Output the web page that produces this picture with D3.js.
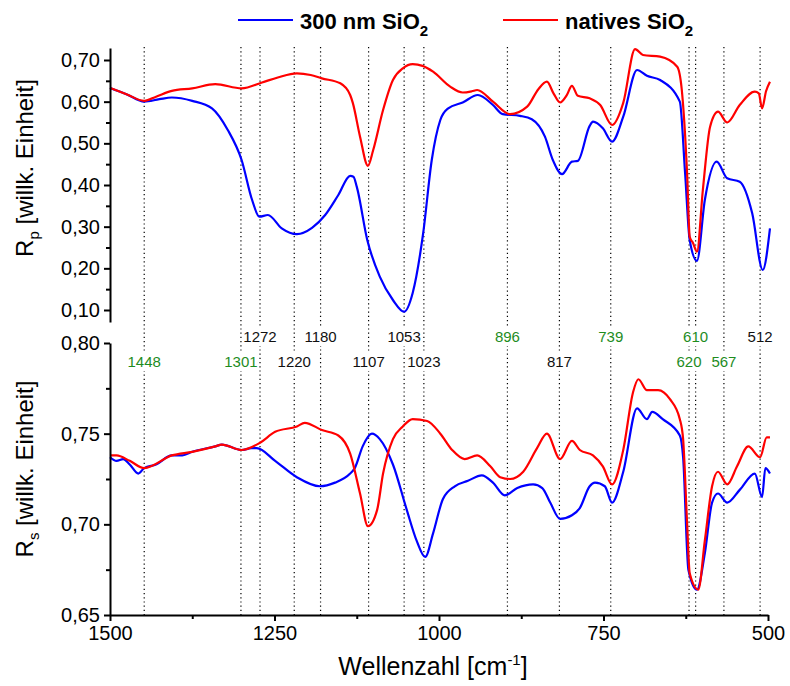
<!DOCTYPE html>
<html>
<head>
<meta charset="utf-8">
<script src="https://cdn.jsdelivr.net/npm/d3@7"></script>
<style>
  body { margin: 0; background: #fff; }
  svg { font-family: "Liberation Sans", Arial, sans-serif; }
</style>
</head>
<body>
<div id="chart"></div>
<script>
// Rp spectra (top panel), [wavenumber, value]
var rpBlue = [
  [1500,0.633],[1475,0.618],[1448,0.600],[1425,0.606],[1406,0.610],[1375,0.602],
  [1345,0.584],[1321,0.532],[1300,0.460],[1284,0.364],[1273,0.324],[1260,0.328],
  [1239,0.296],[1216,0.282],[1193,0.297],[1173,0.328],[1153,0.376],[1135,0.422],
  [1130,0.420],[1125,0.396],[1109,0.268],[1090,0.180],[1070,0.124],[1053,0.096],
  [1040,0.141],[1024,0.285],[1011,0.460],[998,0.556],[986,0.584],[964,0.598],
  [941,0.616],[918,0.592],[903,0.570],[877,0.566],[859,0.558],[839,0.516],
  [827,0.460],[813,0.426],[798,0.456],[789,0.458],[771,0.542],[766,0.552],
  [751,0.536],[737,0.504],[720,0.564],[699,0.676],[684,0.662],[664,0.652],
  [634,0.600],[626,0.429],[619,0.268],[608,0.218],[596,0.364],[578,0.456],
  [562,0.416],[543,0.408],[524,0.332],[508,0.196],[497,0.296]
];
var rpRed = [
  [1500,0.633],[1475,0.618],[1448,0.602],[1430,0.612],[1406,0.626],[1375,0.632],
  [1340,0.642],[1300,0.632],[1269,0.646],[1245,0.658],[1216,0.668],[1195,0.664],
  [1178,0.656],[1150,0.644],[1135,0.616],[1131,0.597],[1120,0.516],[1108,0.446],
  [1100,0.484],[1085,0.580],[1070,0.652],[1055,0.680],[1040,0.690],[1025,0.686],
  [1009,0.672],[983,0.636],[964,0.622],[950,0.625],[942,0.628],[918,0.600],
  [892,0.570],[866,0.588],[849,0.630],[836,0.648],[826,0.620],[816,0.598],
  [806,0.615],[798,0.638],[789,0.614],[771,0.608],[755,0.592],[737,0.544],
  [720,0.597],[702,0.726],[690,0.712],[664,0.708],[638,0.684],[631,0.628],
  [623,0.429],[619,0.276],[614,0.261],[608,0.240],[599,0.388],[588,0.540],
  [576,0.576],[562,0.550],[543,0.592],[520,0.624],[514,0.620],[509,0.584],
  [503,0.625],[497,0.648]
];
// Rs spectra (bottom panel)
var rsBlue = [
  [1500,0.737],[1490,0.735],[1480,0.736],[1470,0.733],[1457,0.728],[1448,0.731],
  [1430,0.733],[1406,0.738],[1390,0.738],[1375,0.740],[1340,0.743],[1330,0.744],
  [1300,0.741],[1285,0.742],[1277,0.742],[1249,0.735],[1216,0.726],[1181,0.721],
  [1158,0.723],[1135,0.728],[1128,0.731],[1116,0.743],[1102,0.750],[1090,0.747],
  [1070,0.733],[1049,0.708],[1034,0.691],[1021,0.682],[1009,0.695],[994,0.714],
  [976,0.721],[956,0.724],[935,0.727],[918,0.723],[900,0.716],[881,0.720],
  [857,0.722],[843,0.720],[831,0.712],[816,0.703],[798,0.705],[786,0.709],
  [771,0.721],[763,0.723],[748,0.721],[737,0.712],[720,0.729],[699,0.764],
  [684,0.758],[676,0.762],[660,0.758],[634,0.749],[629,0.737],[621,0.675],
  [608,0.664],[596,0.684],[585,0.712],[576,0.717],[562,0.712],[543,0.719],
  [520,0.728],[509,0.715],[504,0.731],[497,0.728]
];
var rsRed = [
  [1500,0.738],[1490,0.738],[1470,0.735],[1448,0.731],[1406,0.738],[1375,0.740],
  [1340,0.743],[1330,0.744],[1300,0.741],[1272,0.745],[1249,0.751],[1216,0.754],
  [1204,0.756],[1178,0.752],[1153,0.749],[1135,0.739],[1120,0.717],[1108,0.699],
  [1094,0.708],[1085,0.728],[1070,0.747],[1055,0.754],[1040,0.758],[1018,0.757],
  [998,0.750],[980,0.741],[961,0.736],[942,0.738],[922,0.732],[907,0.726],
  [892,0.725],[872,0.729],[851,0.742],[836,0.750],[816,0.736],[798,0.746],
  [786,0.741],[766,0.738],[751,0.732],[737,0.722],[720,0.741],[705,0.773],
  [697,0.780],[684,0.774],[667,0.774],[649,0.769],[634,0.758],[629,0.747],
  [623,0.701],[619,0.673],[606,0.664],[596,0.691],[585,0.721],[576,0.729],
  [562,0.722],[547,0.732],[530,0.743],[512,0.737],[502,0.748],[497,0.748]
];

// marked bands: wavenumber, label row (0 = upper, 1 = lower), green or not
var peaks = [1448, 1301, 1272, 1220, 1180, 1107, 1053, 1023, 896, 817, 739, 620, 610, 567, 512];
var peakRow = [1, 1, 0, 1, 0, 1, 0, 1, 0, 1, 0, 1, 0, 1, 0];
var peakGreen = [1, 1, 0, 0, 0, 0, 0, 0, 1, 0, 1, 1, 1, 1, 0];

var xTicks = [1500, 1250, 1000, 750, 500];
var xMinor = [1375, 1125, 875, 625];
var rpTicks = [0.1, 0.2, 0.3, 0.4, 0.5, 0.6, 0.7];
var rpMinor = [0.15, 0.25, 0.35, 0.45, 0.55, 0.65];
var rsTicks = [0.65, 0.70, 0.75, 0.80];
var rsMinor = [0.675, 0.725, 0.775];

var W = 790, H = 686;
var svg = d3.select("#chart").append("svg")
  .attr("width", W)
  .attr("height", H);

var de = d3.formatLocale({decimal: ",", thousands: ".", grouping: [3], currency: ["", "€"]});
var fmt2 = de.format(".2f");

var x = d3.scaleLinear().domain([1500, 500]).range([110, 768]);
var yTop = d3.scaleLinear().domain([0.0712, 0.7288]).range([322, 48]);
var yBot = d3.scaleLinear().domain([0.65, 0.80]).range([615, 343]);

// dotted band lines
var green = "#1e8c1e";
svg.append("g").selectAll("line")
  .data(peaks)
  .enter().append("line")
  .attr("x1", d => x(d)).attr("x2", d => x(d))
  .attr("y1", 47).attr("y2", 615)
  .attr("stroke", "#000")
  .attr("stroke-width", 1.2)
  .attr("stroke-dasharray", "1.2,3");

// band labels with white boxes hiding their own line
var lab = svg.append("g").selectAll("g")
  .data(peaks)
  .enter().append("g")
  .attr("transform", (d, i) => "translate(" + x(d) + "," + (peakRow[i] ? 367 : 342) + ")");
lab.append("rect")
  .attr("x", -18).attr("y", -14).attr("width", 36).attr("height", 18)
  .attr("fill", "#fff");
lab.append("text")
  .attr("text-anchor", "middle")
  .attr("font-size", 15)
  .attr("fill", (d, i) => peakGreen[i] ? green : "#111")
  .text(d => d);

// curves
function line(ys) {
  return d3.line()
    .x(d => x(d[0]))
    .y(d => ys(d[1]))
    .curve(d3.curveMonotoneX);
}
var series = [
  [rpBlue, yTop, "#0000ff"], [rpRed, yTop, "#ff0000"],
  [rsBlue, yBot, "#0000ff"], [rsRed, yBot, "#ff0000"]
];
series.forEach(s => {
  svg.append("path")
    .datum(s[0])
    .attr("d", line(s[1]))
    .attr("fill", "none")
    .attr("stroke", s[2])
    .attr("stroke-width", 2.2)
    .attr("stroke-linejoin", "round");
});

// axes
function styleAxis(g) {
  g.selectAll("path,line").attr("stroke", "#000").attr("stroke-width", 2);
  g.selectAll("text").attr("font-size", 20).attr("fill", "#000")
    .attr("font-family", "Liberation Sans, Arial, sans-serif");
}

svg.append("g")
  .attr("transform", "translate(110,0)")
  .call(d3.axisLeft(yTop).tickValues(rpTicks).tickFormat(fmt2).tickSize(6).tickSizeOuter(0).tickPadding(4))
  .call(styleAxis);
svg.append("g")
  .attr("transform", "translate(110,0)")
  .call(d3.axisLeft(yTop).tickValues(rpMinor).tickFormat("").tickSize(4).tickSizeOuter(0))
  .call(g => g.select(".domain").remove())
  .call(styleAxis);

svg.append("g")
  .attr("transform", "translate(110,0)")
  .call(d3.axisLeft(yBot).tickValues(rsTicks).tickFormat(fmt2).tickSize(6).tickSizeOuter(0).tickPadding(4))
  .call(styleAxis);
svg.append("g")
  .attr("transform", "translate(110,0)")
  .call(d3.axisLeft(yBot).tickValues(rsMinor).tickFormat("").tickSize(4).tickSizeOuter(0))
  .call(g => g.select(".domain").remove())
  .call(styleAxis);

svg.append("g")
  .attr("transform", "translate(0,615)")
  .call(d3.axisBottom(x).tickValues(xTicks).tickFormat(d3.format("d")).tickSize(6).tickSizeOuter(0).tickPadding(5))
  .call(styleAxis);
svg.append("g")
  .attr("transform", "translate(0,615)")
  .call(d3.axisBottom(x).tickValues(xMinor).tickFormat("").tickSize(4).tickSizeOuter(0))
  .call(g => g.select(".domain").remove())
  .call(styleAxis);

// axis titles
var xt = svg.append("text")
  .attr("x", 433).attr("y", 675)
  .attr("text-anchor", "middle")
  .attr("font-size", 25);
xt.append("tspan").text("Wellenzahl [cm");
xt.append("tspan").attr("font-size", 15).attr("dy", -10).text("-1");
xt.append("tspan").attr("dy", 10).text("]");

function yTitle(sub, cy) {
  var t = svg.append("text")
    .attr("transform", "translate(33," + cy + ") rotate(-90)")
    .attr("text-anchor", "middle")
    .attr("font-size", 24);
  t.append("tspan").text("R");
  t.append("tspan").attr("font-size", 15).attr("dy", 6).text(sub);
  t.append("tspan").attr("dy", -6).text(" [willk. Einheit]");
}
yTitle("p", 168);
yTitle("s", 469);

// legend
var legend = [["300 nm SiO", "#0000ff", 238], ["natives SiO", "#ff0000", 503]];
legend.forEach(l => {
  svg.append("line")
    .attr("x1", l[2]).attr("x2", l[2] + 55)
    .attr("y1", 20).attr("y2", 20)
    .attr("stroke", l[1]).attr("stroke-width", 2.2);
  var t = svg.append("text")
    .attr("x", l[2] + 62).attr("y", 29)
    .attr("font-size", 22).attr("font-weight", "bold");
  t.append("tspan").text(l[0]);
  t.append("tspan").attr("font-size", 15).attr("dy", 7).text("2");
});
</script>
</body>
</html>
